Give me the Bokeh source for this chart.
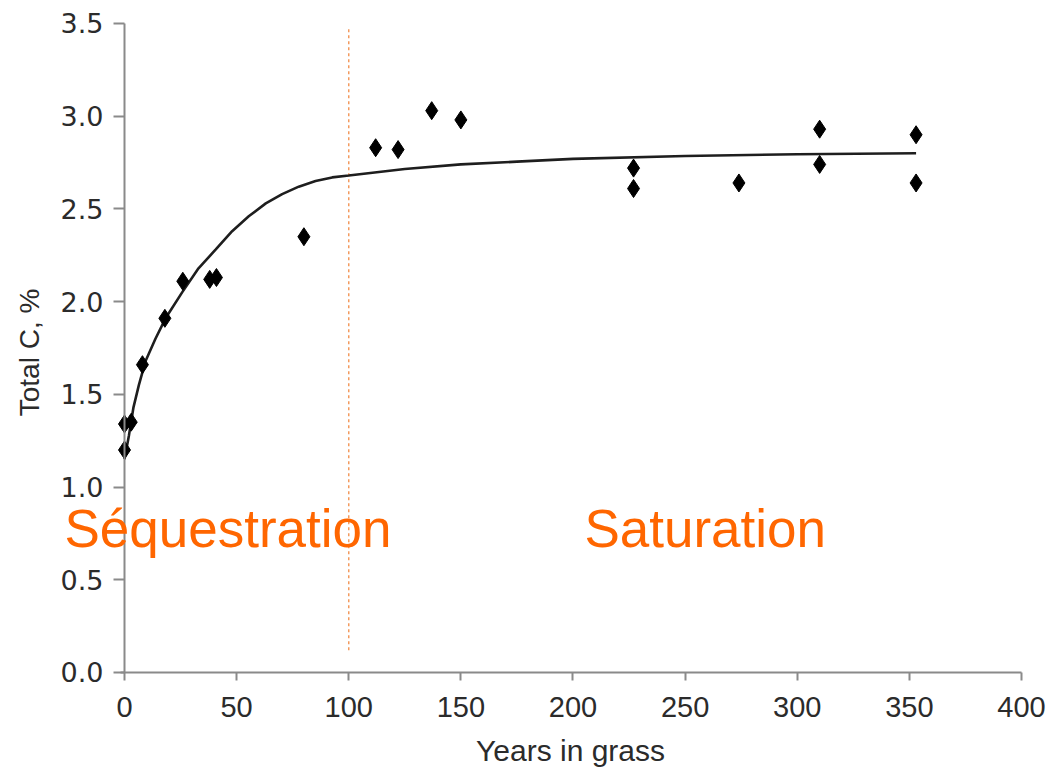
import math
from bokeh.plotting import figure
from bokeh.models import Range1d, Label, FixedTicker, LinearAxis
from bokeh.embed import file_html
from bokeh.resources import INLINE

# measured points
years = [0, 0, 3, 8, 18, 26, 38, 41, 80, 112, 122, 137, 150, 227, 227, 274, 310, 310, 353, 353]
total_c = [1.20, 1.34, 1.35, 1.66, 1.91, 2.11, 2.12, 2.13, 2.35, 2.83, 2.82, 3.03, 2.98,
           2.72, 2.61, 2.64, 2.93, 2.74, 2.90, 2.64]

# fitted curve
curve_x = [0, 2, 4, 6.4, 9.4, 13.8, 18.3, 25.7, 33, 40.6, 48, 55.4, 63, 70.3, 77.7, 85.2,
           92.6, 100, 125, 150, 175, 200, 250, 300, 353]
curve_y = [1.15, 1.28, 1.43, 1.55, 1.68, 1.80, 1.91, 2.05, 2.18, 2.28, 2.38, 2.46, 2.53,
           2.58, 2.62, 2.65, 2.67, 2.68, 2.715, 2.74, 2.755, 2.77, 2.785, 2.795, 2.80]

x_ticks = [0, 50, 100, 150, 200, 250, 300, 350, 400]
y_ticks = [0.0, 0.5, 1.0, 1.5, 2.0, 2.5, 3.0, 3.5]
x_title = "Years in grass"
y_title = "Total C, %"

boundary_x = 100
boundary_y = [0.12, 3.47]
phase_labels = ["Séquestration", "Saturation"]
phase_x = [-26.8, 205.1]
phase_y = 0.775

# frame covers the whole canvas; axes are pinned at x=0 and y=0
p = figure(frame_width=1049, frame_height=771, output_backend="svg", toolbar_location=None,
           x_range=Range1d(-55.3, 412.5), y_range=Range1d(-0.534, 3.624),
           x_axis_location=None, y_axis_location=None,
           min_border_left=0, min_border_right=0, min_border_top=0, min_border_bottom=0)
p.outline_line_color = None
p.background_fill_color = "white"
p.border_fill_color = "white"
p.xgrid.visible = False
p.ygrid.visible = False

xaxis = LinearAxis(fixed_location=0, bounds=(-2, 400), ticker=FixedTicker(ticks=x_ticks))
yaxis = LinearAxis(fixed_location=0, bounds=(0, 3.5), ticker=FixedTicker(ticks=y_ticks))
p.add_layout(xaxis, "below")
p.add_layout(yaxis, "left")

axis_col = "#8a8a8a"
for ax in (xaxis, yaxis):
    ax.axis_line_color = axis_col
    ax.axis_line_width = 2
    ax.major_tick_line_color = axis_col
    ax.major_tick_line_width = 2
    ax.major_tick_in = 0
    ax.minor_tick_line_color = None
    ax.major_label_text_color = "#2b2b2b"

yaxis.major_label_overrides = {t: f"{t:.1f}" for t in y_ticks}

xaxis.major_tick_out = 8
xaxis.major_label_standoff = 17
xaxis.major_label_text_font = "Liberation Sans"
xaxis.major_label_text_font_size = "29px"

yaxis.major_tick_out = 11
yaxis.major_label_standoff = 10
yaxis.major_label_text_font = "DejaVu Sans"
yaxis.major_label_text_font_size = "27px"

p.add_layout(Label(x=198.9, y=-0.42, text=x_title, text_color="#2b2b2b",
                   text_font="Liberation Sans", text_font_size="30px",
                   text_align="center", text_baseline="middle"))
p.add_layout(Label(x=-42.5, y=1.726, text=y_title, text_color="#2b2b2b",
                   text_font="Liberation Sans", text_font_size="28px",
                   text_align="center", text_baseline="middle", angle=math.pi / 2))

p.segment(x0=[boundary_x], y0=[boundary_y[0]], x1=[boundary_x], y1=[boundary_y[1]],
          line_color="#f39a5f", line_width=1.5, line_dash="3 3")

p.line(curve_x, curve_y, line_color="#1e1e1e", line_width=2.6)
p.scatter(years, total_c, marker="diamond", size=18, fill_color="black", line_color="black")

for txt, xx in zip(phase_labels, phase_x):
    p.add_layout(Label(x=xx, y=phase_y, text=txt, text_color="#ff6600",
                       text_font="Liberation Sans", text_font_size="53px",
                       text_baseline="alphabetic", text_align="left"))

open("out.html", "w").write(file_html(p, INLINE))
